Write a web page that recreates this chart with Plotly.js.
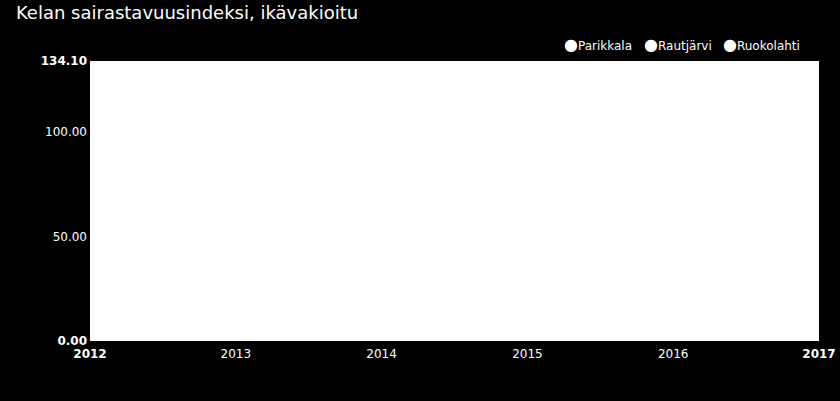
<!DOCTYPE html>
<html>
<head>
<meta charset="utf-8">
<script src="https://cdn.plot.ly/plotly-3.0.1.min.js"></script>
<style>
  html, body { margin: 0; padding: 0; background: #000; }
  #chart { width: 840px; height: 401px; }
</style>
</head>
<body>
<div id="chart"></div>
<script>
// vuodet
const years = [2012, 2013, 2014, 2015, 2016, 2017];

// indeksit (viivat valkoisella pohjalla, ei näy kuvassa)
const parikkala = [118.4, 121.0, 124.6, 127.3, 130.2, 134.1];
const rautjarvi = [126.5, 128.9, 125.2, 122.8, 124.0, 127.6];
const ruokolahti = [104.3, 107.1, 109.8, 112.5, 110.9, 113.4];

const names = ['Parikkala', 'Rautjärvi', 'Ruokolahti'];
const series = [parikkala, rautjarvi, ruokolahti];

const yTickVals = [0, 50, 100, 134.1];
const yTickText = ['<b>0.00</b>', '50.00', '100.00', '<b>134.10</b>'];
const xTickText = ['<b>2012</b>', '2013', '2014', '2015', '2016', '<b>2017</b>'];

const data = series.map((s, i) => ({
  x: years,
  y: s,
  name: names[i],
  type: 'scatter',
  mode: 'lines+markers',
  line: { color: '#ffffff', width: 2 },
  marker: { color: '#ffffff', size: 8 },
  showlegend: false
}));

// selite piirretään annotaatioina, jotta pallo on lähellä tekstiä
const legendX = [0.648, 0.757, 0.865];
const legend = names.map((n, i) => ({
  xref: 'paper', yref: 'paper',
  x: legendX[i], y: 1.06,
  xanchor: 'left', yanchor: 'middle',
  showarrow: false,
  text: '<span style="font-size:16px">●</span>' + n,
  font: { size: 12, color: '#ffffff' }
}));

const layout = {
  width: 840,
  height: 401,
  paper_bgcolor: '#000000',
  plot_bgcolor: '#ffffff',
  font: { family: 'DejaVu Sans, sans-serif', color: '#ffffff', size: 12 },
  margin: { l: 90, r: 21, t: 61, b: 60 },
  title: {
    text: 'Kelan sairastavuusindeksi, ikävakioitu',
    font: { size: 18, color: '#ffffff' },
    x: 0.019, xanchor: 'left',
    y: 0.968, yanchor: 'middle'
  },
  showlegend: false,
  annotations: legend,
  xaxis: {
    range: [2012, 2017],
    tickvals: years,
    ticktext: xTickText,
    showgrid: false,
    zeroline: false,
    showline: false,
    ticks: '',
    ticklabelstandoff: 4,
    tickfont: { size: 12, color: '#ffffff' }
  },
  yaxis: {
    range: [0, 134.1],
    tickvals: yTickVals,
    ticktext: yTickText,
    showgrid: true,
    gridcolor: '#ffffff',
    zeroline: false,
    showline: false,
    ticks: '',
    ticklabelstandoff: 2,
    tickfont: { size: 12, color: '#ffffff' }
  }
};

Plotly.newPlot('chart', data, layout, { displayModeBar: false, staticPlot: true });
</script>
</body>
</html>
